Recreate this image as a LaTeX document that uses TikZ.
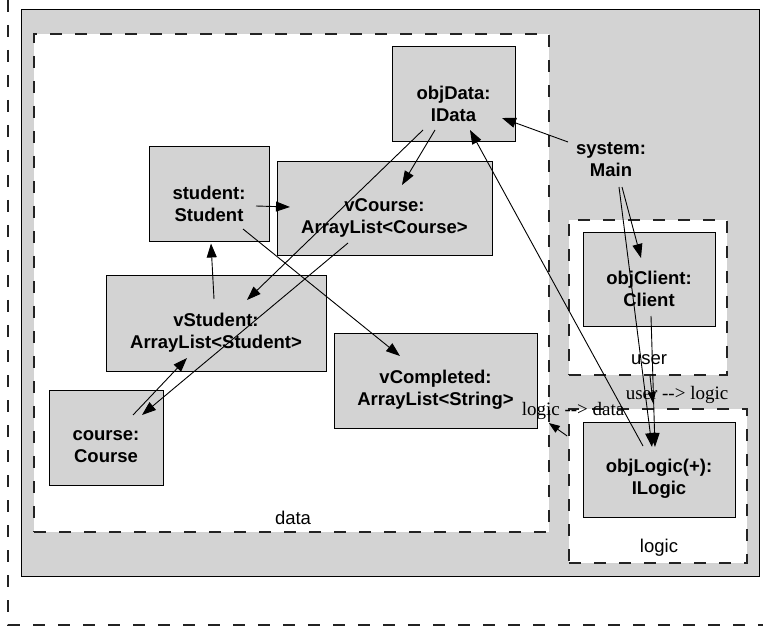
\documentclass[tikz,border=0pt]{standalone}
\usepackage{fontspec}
\setmainfont{Liberation Serif}
\setsansfont{Liberation Sans}
\usetikzlibrary{arrows.meta}

\definecolor{pkggray}{RGB}{211,211,211}
\definecolor{dashgray}{RGB}{35,35,35}

\tikzset{
  objbox/.style={draw, fill=pkggray, line width=1pt, inner sep=0pt},
  objtext/.style={font=\sffamily\bfseries\fontsize{18.5}{22}\selectfont, align=center},
  pkgbox/.style={draw=dashgray, fill=white, line width=1.7pt, dash pattern=on 12pt off 13pt, inner sep=0pt},
  pkglabel/.style={font=\sffamily\fontsize{18.5}{22}\selectfont},
  deplabel/.style={font=\rmfamily\fontsize{19}{22}\selectfont},
  link/.style={-{Triangle[length=14pt,width=10pt]}, line width=0.9pt},
  deplink/.style={-{Triangle[length=11pt,width=8pt]}, line width=0.9pt},
}

\begin{document}
\begin{tikzpicture}[x=1pt, y=-1pt]
  \useasboundingbox (0,0) rectangle (763,628);

  % outer frame
  \draw[dashgray, line width=1.2pt, dash pattern=on 12pt off 13pt] (8,0) -- (8,625) -- (763,625);
  \node[draw, fill=pkggray, line width=1pt, inner sep=0pt, minimum width=738pt, minimum height=566pt] (sysframe) at (390,293) {};

  % packages
  \node[pkgbox, minimum width=515pt, minimum height=498pt] (data) at (291.5,283) {};
  \node[pkgbox, minimum width=158pt, minimum height=155pt] (user) at (648,297.5) {};
  \node[pkgbox, minimum width=178pt, minimum height=154pt] (logic) at (658,486) {};
  \node[pkglabel] (dataname) at (293,518) {data};
  \node[pkglabel] (username) at (649,360) {user};
  \node[pkglabel] (logicname) at (659,548) {logic};

  % objects
  \node[objbox, minimum width=123pt, minimum height=95pt,
    label={[objtext, yshift=-9pt]center:{objData:\\IData}}] (objData) at (453.5,94.5) {};
  \node[objbox, minimum width=120pt, minimum height=95pt,
    label={[objtext, yshift=-9pt]center:{student:\\Student}}] (student) at (209,194.5) {};
  \node[objbox, minimum width=215pt, minimum height=94pt,
    label={[objtext, yshift=-9pt]center:{vCourse:\\ArrayList<Course>}}] (vCourse) at (384.5,209) {};
  \node[objbox, minimum width=220pt, minimum height=95pt,
    label={[objtext, yshift=-9pt]center:{vStudent:\\ArrayList<Student>}}] (vStudent) at (216,323.5) {};
  \node[objbox, minimum width=114pt, minimum height=95pt,
    label={[objtext, yshift=-9pt]center:{course:\\Course}}] (course) at (106,437.5) {};
  \node[objbox, minimum width=203pt, minimum height=95pt,
    label={[objtext, yshift=-9pt]center:{vCompleted:\\ArrayList<String>}}] (vCompleted) at (435.5,380.5) {};
  \node[objbox, minimum width=132pt, minimum height=94pt,
    label={[objtext, yshift=-9pt]center:{objClient:\\Client}}] (objClient) at (649,280) {};
  \node[objbox, minimum width=152pt, minimum height=95pt,
    label={[objtext, yshift=-9pt]center:{objLogic(+):\\ILogic}}] (objLogic) at (659,469.5) {};
  \node[objtext] (system) at (611,160) {system:\\Main};

  % messages
  \draw[link] ([shift={(47,11.5)}]student.center) -- ([shift={(-94.5,-2)}]vCourse.center);
  \draw[link] ([shift={(-2,-24.5)}]vStudent.center) -- ([shift={(2,1)}]student.south);
  \draw[link] ([shift={(-18.5,35.5)}]objData.center) -- ([shift={(17.5,-24)}]vCourse.center);
  \draw[link] ([shift={(-30.5,35.5)}]objData.center) -- ([shift={(31,-23.5)}]vStudent.center);
  \draw[link] ([shift={(-36.5,34)}]vCourse.center) -- ([shift={(36,-22.5)}]course.center);
  \draw[link] ([shift={(27,-22.5)}]course.center) -- ([shift={(-29,34.5)}]vStudent.center);
  \draw[link] ([shift={(34,34.5)}]student.center) -- ([shift={(-35.5,-24.5)}]vCompleted.center);
  \draw[link] ([shift={(-43,-18)}]system.center) -- ([shift={(48.5,23.5)}]objData.center);
  \draw[link] ([shift={(11,27)}]system.center) -- ([shift={(-8,-22)}]objClient.center);
  \draw[link] ([shift={(8,27)}]system.center) -- ([shift={(-7,-22.5)}]objLogic.center);
  \draw[link] ([shift={(2,36)}]objClient.center) -- ([shift={(-4,-22.5)}]objLogic.center);
  \draw[link] ([shift={(-16,-23.5)}]objLogic.center) -- ([shift={(16.5,35.5)}]objData.center);

  % package dependencies
  \draw[deplink] ([xshift=2pt]user.south) -- ([shift={(-5,-5)}]logic.north);
  \draw[deplink] ([shift={(-1,-50)}]logic.west) -- ([shift={(-1,140)}]data.east);
  \node[deplabel] (userlogic) at (677,395) {user -{}-> logic};
  \node[deplabel] (logicdata) at (573,411) {logic -{}-> data};
\end{tikzpicture}
\end{document}
